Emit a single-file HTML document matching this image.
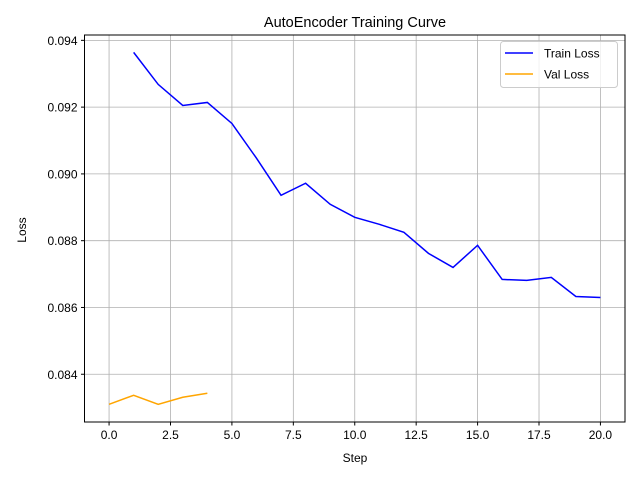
<!DOCTYPE html>
<html><head><meta charset="utf-8"><style>
body{margin:0;background:#fff;}
svg{display:block;font-family:"Liberation Sans","DejaVu Sans",sans-serif;}
</style></head><body>
<svg id="chart" width="640" height="480" viewBox="0 0 640 480">
<text x="355" y="27" font-size="14.5" text-anchor="middle">AutoEncoder Training Curve</text>
<g id="grid"></g>
<g id="xticks"></g>
<g id="yticks"></g>
<g id="series"></g>
<rect x="84.5" y="35" width="540.5" height="387" fill="none" stroke="#000" stroke-width="1"/>
<text x="355" y="462" font-size="12" text-anchor="middle">Step</text>
<text x="26" y="230" font-size="12" text-anchor="middle" transform="rotate(-90 26 230)">Loss</text>
<g>
<rect x="500.5" y="41.5" width="117" height="46" rx="3" fill="#fff" fill-opacity="0.8" stroke="#ccc"/>
<g><line x1="505" y1="53" x2="533" y2="53" stroke="#0000ff" stroke-width="1.5"/><text x="544" y="57.5" font-size="12">Train Loss</text></g>
<g><line x1="505" y1="74" x2="533" y2="74" stroke="#ffa500" stroke-width="1.5"/><text x="544" y="78.5" font-size="12">Val Loss</text></g>
</g>
</svg>
<script>
const trainSteps=[1,2,3,4,5,6,7,8,9,10,11,12,13,14,15,16,17,18,19,20];
const trainLoss=[0.09364,0.09268,0.09205,0.09214,0.09151,0.09047,0.08936,0.08972,0.08909,0.08870,0.08849,0.08825,0.08762,0.08720,0.08786,0.08684,0.08681,0.08690,0.08633,0.08630];
const valSteps=[0,1,2,3,4];
const valLoss=[0.08310,0.08337,0.08310,0.08331,0.08343];
const xTicks=[0,2.5,5,7.5,10,12.5,15,17.5,20];
const xTickLabels=["0.0","2.5","5.0","7.5","10.0","12.5","15.0","17.5","20.0"];
const yTicks=[0.084,0.086,0.088,0.090,0.092,0.094];
const yTickLabels=["0.084","0.086","0.088","0.090","0.092","0.094"];
const X0=84.5,X1=625,Y0=35,Y1=422;
const xmin=-1,xmax=21,ymin=0.08257,ymax=0.09416;
const sx=v=>X0+(v-xmin)/(xmax-xmin)*(X1-X0);
const sy=v=>Y1-(v-ymin)/(ymax-ymin)*(Y1-Y0);
const NS="http://www.w3.org/2000/svg";
function mk(t,a,p){const e=document.createElementNS(NS,t);for(const k in a)e.setAttribute(k,a[k]);p.appendChild(e);return e;}
const grid=document.getElementById('grid'),xg=document.getElementById('xticks'),yg=document.getElementById('yticks'),sg=document.getElementById('series');
xTicks.forEach((v,i)=>{const x=sx(v);
 const g=mk('line',{x1:x,x2:x,y1:Y0,y2:Y1,stroke:'#b0b0b0','stroke-width':0.8},grid);
 
 
 mk('line',{x1:x,x2:x,y1:Y1,y2:Y1+3.5,stroke:'#000'},xg);
 const t=mk('text',{x:x,y:Y1+17,'font-size':12,'text-anchor':'middle'},xg);t.textContent=xTickLabels[i];
 
 });
yTicks.forEach((v,i)=>{const y=sy(v);
 const g=mk('line',{x1:X0,x2:X1,y1:y,y2:y,stroke:'#b0b0b0','stroke-width':0.8},grid);
 
 
 mk('line',{x1:X0-3.5,x2:X0,y1:y,y2:y,stroke:'#000'},yg);
 const t=mk('text',{x:X0-7,y:y+4.5,'font-size':12,'text-anchor':'end'},yg);t.textContent=yTickLabels[i];
 
 });
const tl=mk('polyline',{points:trainSteps.map((s,i)=>sx(s)+','+sy(trainLoss[i])).join(' '),fill:'none',stroke:'#0000ff','stroke-width':1.5},sg);


const vl=mk('polyline',{points:valSteps.map((s,i)=>sx(s)+','+sy(valLoss[i])).join(' '),fill:'none',stroke:'#ffa500','stroke-width':1.5},sg);


</script>
</body></html>
